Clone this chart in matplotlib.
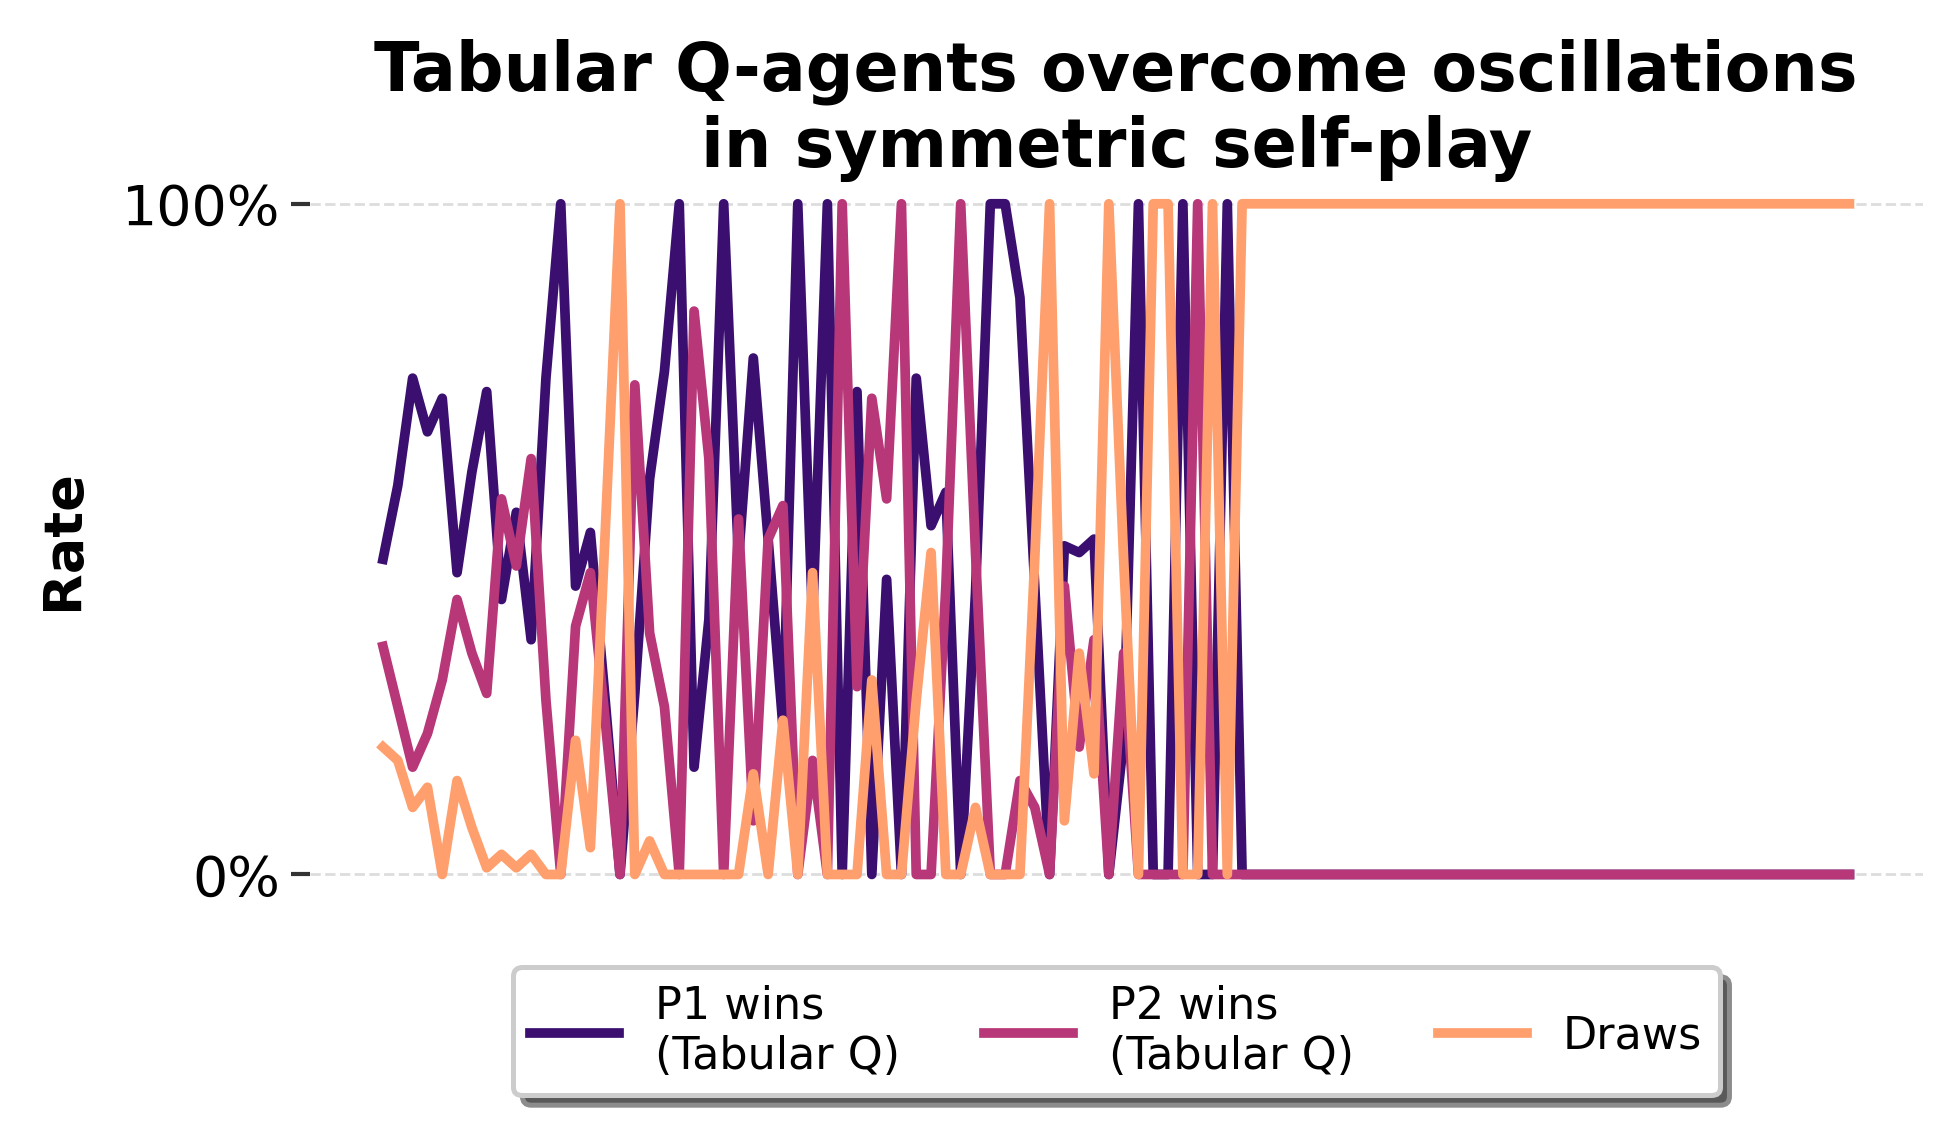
import numpy as np
import matplotlib

matplotlib.use("Agg")
import matplotlib.pyplot as plt
from matplotlib.ticker import FixedLocator, FuncFormatter

# win / draw rates per evaluation checkpoint
p1_wins = [
    0.47, 0.58, 0.74, 0.66, 0.71, 0.45, 0.60, 0.72, 0.41, 0.54,
    0.35, 0.74, 1.00, 0.43, 0.51, 0.26, 0.00, 0.27, 0.59, 0.75,
    1.00, 0.16, 0.38, 1.00, 0.47, 0.77, 0.50, 0.22, 1.00, 0.38,
    1.00, 0.00, 0.72, 0.00, 0.44, 0.00, 0.74, 0.52, 0.57, 0.00,
    0.42, 1.00, 1.00, 0.86, 0.43, 0.00, 0.49, 0.48, 0.50, 0.00,
    0.20, 1.00, 0.00, 0.00, 1.00, 0.00, 0.00, 1.00, 0.00, 0.00,
    0.00, 0.00, 0.00, 0.00, 0.00, 0.00, 0.00, 0.00, 0.00, 0.00,
    0.00, 0.00, 0.00, 0.00, 0.00, 0.00, 0.00, 0.00, 0.00, 0.00,
    0.00, 0.00, 0.00, 0.00, 0.00, 0.00, 0.00, 0.00, 0.00, 0.00,
    0.00, 0.00, 0.00, 0.00, 0.00, 0.00, 0.00, 0.00, 0.00, 0.00,
]
p2_wins = [
    0.34, 0.25, 0.16, 0.21, 0.29, 0.41, 0.33, 0.27, 0.56, 0.46,
    0.62, 0.26, 0.00, 0.37, 0.45, 0.23, 0.00, 0.73, 0.36, 0.25,
    0.00, 0.84, 0.62, 0.00, 0.53, 0.08, 0.50, 0.55, 0.00, 0.17,
    0.00, 1.00, 0.28, 0.71, 0.56, 1.00, 0.00, 0.00, 0.43, 1.00,
    0.48, 0.00, 0.00, 0.14, 0.10, 0.00, 0.43, 0.19, 0.35, 0.00,
    0.33, 0.00, 0.00, 0.00, 0.00, 1.00, 0.00, 0.00, 0.00, 0.00,
    0.00, 0.00, 0.00, 0.00, 0.00, 0.00, 0.00, 0.00, 0.00, 0.00,
    0.00, 0.00, 0.00, 0.00, 0.00, 0.00, 0.00, 0.00, 0.00, 0.00,
    0.00, 0.00, 0.00, 0.00, 0.00, 0.00, 0.00, 0.00, 0.00, 0.00,
    0.00, 0.00, 0.00, 0.00, 0.00, 0.00, 0.00, 0.00, 0.00, 0.00,
]
draws = [
    0.19, 0.17, 0.10, 0.13, 0.00, 0.14, 0.07, 0.01, 0.03, 0.01,
    0.03, 0.00, 0.00, 0.20, 0.04, 0.51, 1.00, 0.00, 0.05, 0.00,
    0.00, 0.00, 0.00, 0.00, 0.00, 0.15, 0.00, 0.23, 0.00, 0.45,
    0.00, 0.00, 0.00, 0.29, 0.00, 0.00, 0.26, 0.48, 0.00, 0.00,
    0.10, 0.00, 0.00, 0.00, 0.47, 1.00, 0.08, 0.33, 0.15, 1.00,
    0.47, 0.00, 1.00, 1.00, 0.00, 0.00, 1.00, 0.00, 1.00, 1.00,
    1.00, 1.00, 1.00, 1.00, 1.00, 1.00, 1.00, 1.00, 1.00, 1.00,
    1.00, 1.00, 1.00, 1.00, 1.00, 1.00, 1.00, 1.00, 1.00, 1.00,
    1.00, 1.00, 1.00, 1.00, 1.00, 1.00, 1.00, 1.00, 1.00, 1.00,
    1.00, 1.00, 1.00, 1.00, 1.00, 1.00, 1.00, 1.00, 1.00, 1.00,
]
labels = ["P1 wins\n(Tabular Q)", "P2 wins\n(Tabular Q)", "Draws"]
colors = ["#3b0f70", "#b73779", "#fe9f6d"]
y_ticks = [0.0, 1.0]

episodes = np.arange(len(p1_wins))

fig = plt.figure(figsize=(9.8, 5.675), dpi=200)
ax = fig.add_subplot(111)
fig.subplots_adjust(left=0.158, right=0.981, bottom=0.2, top=0.85)

for series, label, color in zip([p1_wins, p2_wins, draws], labels, colors):
    ax.plot(episodes, series, color=color, lw=3.5, label=label)

ax.set_ylim(-0.05, 1.05)
ax.yaxis.set_major_locator(FixedLocator(y_ticks))
ax.yaxis.set_major_formatter(FuncFormatter(lambda v, _: "{:.0f}%".format(v * 100)))
ax.set_xticks([])
ax.tick_params(axis="y", labelsize=20, length=7, width=1.5, color="#333333")
ax.grid(axis="y", linestyle="--", color="#dddddd", lw=1.0)
ax.set_axisbelow(True)
for spine in ax.spines.values():
    spine.set_visible(False)

ax.set_ylabel("Rate", fontsize=19.5, fontweight="bold", labelpad=12)
ax.set_title(
    "Tabular Q-agents overcome oscillations\nin symmetric self-play",
    fontsize=24,
    fontweight="bold",
    y=0.997,
    pad=2,
)

leg = ax.legend(
    loc="upper center",
    bbox_to_anchor=(0.5, -0.05),
    ncol=3,
    fontsize=16,
    frameon=True,
    fancybox=True,
    shadow={"ox": 3.5, "oy": -3.5, "shade": 0.65, "alpha": 1.0, "edgecolor": "#8c8c8c"},
    framealpha=1.0,
    columnspacing=1.9,
)
leg.get_frame().set_edgecolor("#cccccc")
leg.get_frame().set_linewidth(1.8)

fig.savefig("out.png", dpi=200)
plt.close("all")
